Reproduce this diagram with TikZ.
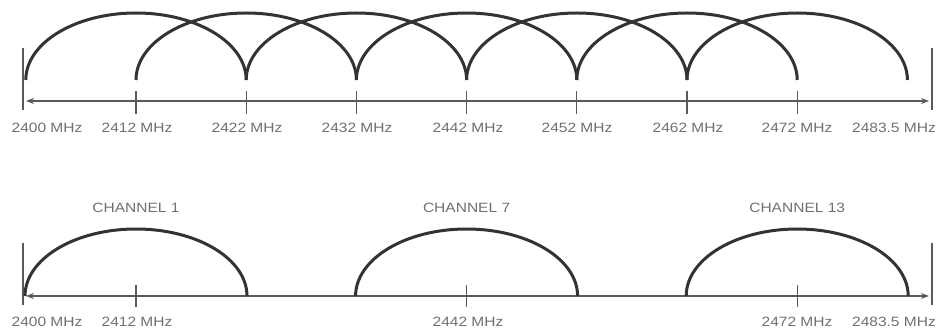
\documentclass[tikz,border=0pt]{standalone}
\usepackage{fontspec}
\setmainfont{Liberation Sans}
\newfontfamily\mhzfont[FakeStretch=1.15]{Liberation Sans}
\usetikzlibrary{arrows.meta}
\definecolor{arcgray}{HTML}{333333}\definecolor{axgray}{HTML}{5A5A5A}\definecolor{txtgray}{HTML}{707070}
\tikzset{chan/.style={line width=3pt,arcgray},
  band/.style={{Stealth[length=8pt,width=6pt]}-{Stealth[length=8pt,width=6pt]},line width=1.2pt,axgray},
  bar/.style={line width=1.1pt,axgray},
  mhz/.style={font=\mhzfont\fontsize{13.5}{14}\selectfont,text=txtgray,inner sep=0pt}}

\begin{document}
\begin{tikzpicture}[x=1pt,y=1pt]
\useasboundingbox(0,0)rectangle(938,329);
\coordinate(tl)at(26,228);\coordinate(tr)at(929,228);\coordinate(bl)at(26,33);\coordinate(br)at(929,33);
\draw[bar](23,219)--(23,281);\draw[bar](932,219)--(932,281);\draw[band](tl)--(tr);
\draw[bar](23,24)--(23,86);\draw[bar](932,24)--(932,86);\draw[band](bl)--(br);
\foreach \k in {0,...,6}{\draw[bar]({136+110.2*\k},215)--++(0,23);
  \draw[chan]({136+110.2*(\k-1)},249)arc[start angle=180,end angle=0,x radius=110.2pt,y radius=67pt];}
\foreach \x/\t [count=\i] in {47/2400,137/2412,247/2422,357/2432,468/2442,577/2452,688/2462,797/2472,894/2483.5}
  \node[mhz](top\i)at(\x,201){\t\ MHz};
\foreach \c/\n/\x [count=\i] in {136/1/47,466.6/7/0,797.2/13/0}{\draw[bar](\c,22)--++(0,22);
  \draw[chan](\c-111,33)arc[start angle=180,end angle=0,x radius=111pt,y radius=67pt];
  \node[mhz](ch\i)at(\c,121){CHANNEL \n};}
\foreach \x/\t [count=\i] in {47/2400,137/2412,468/2442,797/2472,894/2483.5}
  \node[mhz](bot\i)at(\x,7){\t\ MHz};
\end{tikzpicture}
\end{document}
